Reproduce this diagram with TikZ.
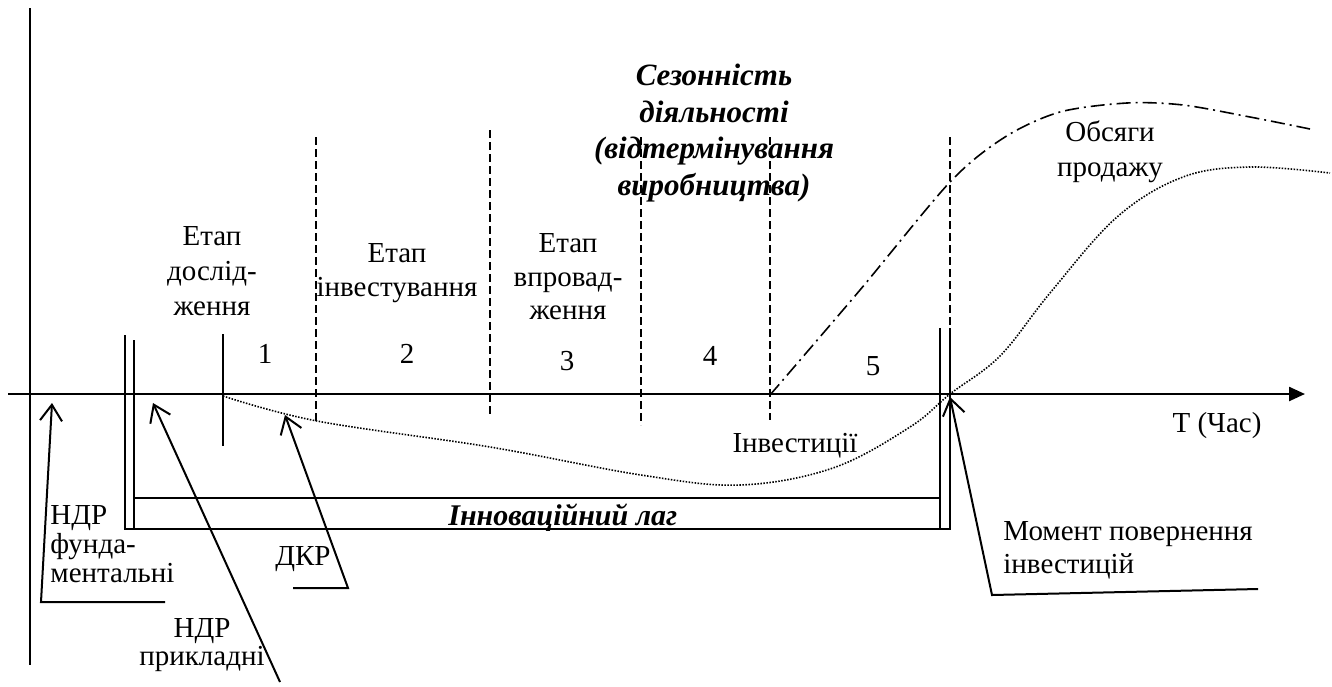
\documentclass[tikz,border=0pt]{standalone}
\usepackage{fontspec}
\setmainfont{Liberation Serif}
\usetikzlibrary{positioning,arrows.meta}

\begin{document}
\begin{tikzpicture}[x=0.5pt, y=-0.5pt, >={Straight Barb[length=8pt,width=11pt]},
    lbl/.style={inner sep=0pt, align=center, font=\fontsize{14.5}{17}\selectfont},
    boldlbl/.style={inner sep=0pt, align=center, font=\fontsize{15.5}{18.3}\selectfont\bfseries\itshape},
    num/.style={inner sep=0pt, anchor=base, font=\fontsize{14.5}{17}\selectfont},
    stageline/.style={line width=0.65pt, dash pattern=on 4pt off 2pt},
    frameline/.style={line width=0.75pt},
    pointer/.style={->, line width=1pt, line join=miter}]
      \useasboundingbox (0,0) rectangle (1332,686);

      % Axes
      \coordinate (axL) at (8,394);
      \coordinate (axR) at (1305,394);
      \draw [line width=1.2pt, -{Triangle[length=8pt,width=7pt]}] (axL) -- (axR);
      \draw [line width=1pt] (30,8) -- (30,665);

      % Stage borders
      \draw [stageline] (316,137) -- (316,423);
      \draw [stageline] (490,130) -- (490,417);
      \draw [stageline] (641,137) -- (641,425);
      \draw [stageline] (770,137) -- (770,420);
      \draw [stageline] (950,137) -- (950,328);
      \draw [frameline] (223,334) -- (223,446);

      % Innovation lag bracket
      \draw [frameline] (125,335) -- (125,529) -- (950,529) -- (950,328);
      \draw [frameline] (134,340) -- (134,529);
      \draw [frameline] (940,328) -- (940,529);
      \draw [frameline] (134,498) -- (940,498);

      % Curves
      \draw [line width=0.8pt, dash pattern=on 0.75pt off 0.75pt] plot [smooth, tension=0.6] coordinates
        {(223,396) (317,421) (490,447) (641,475) (740,485) (833,468) (910,427) (950,394) (1000,356)
         (1050,293) (1117,217) (1183,177) (1250,167) (1330,173)};
      \draw [line width=0.8pt, dash pattern=on 7pt off 2.5pt on 1pt off 2.5pt] plot [smooth, tension=0.5] coordinates
        {(770,395) (860,290) (950,182) (1005,137) (1060,112) (1127,103) (1183,105) (1250,117) (1310,129)};

      % Nodes
      \node [lbl, font=\fontsize{14.5}{17.5}\selectfont] (stage1) at (212,271) {Етап\\дослід-\\ження};
      \node [lbl] (stage2) at (397,273) {Етап\\інвестування};
      \node [lbl, font=\fontsize{14.5}{16.8}\selectfont] (stage3) at (568,277) {Етап\\впровад-\\ження};
      \node [boldlbl] (season) at (714,133) {Сезонність\\діяльності\\(відтермінування\\виробництва)};
      \node [lbl, font=\fontsize{14.5}{17.5}\selectfont] (sales) at (1110,152) {Обсяги\\продажу};

      \node [num] (n1) at (265,363) {1};
      \node [num] (n2) at (407,363) {2};
      \node [num] (n3) at (567,370) {3};
      \node [num] (n4) at (710,365) {4};
      \node [num] (n5) at (873,375) {5};

      \node [num] (invest) at (795,452) {Інвестиції};
      \node [num] (timelbl) at (1217,432) {T (Час)};
      \node [num, anchor=base west, font=\fontsize{15}{17}\selectfont\bfseries\itshape] (lag) at (448,525) {Інноваційний лаг};

      \node [lbl, align=left, anchor=west, font=\fontsize{14.5}{14.5}\selectfont] (fund) at (50,544) {НДР\\фунда-\\ментальні};
      \node [lbl, font=\fontsize{14.5}{14}\selectfont] (appl) at (202,645) {НДР\\прикладні};
      \node [num] (dkr) at (303,565) {ДКР};
      \node [lbl, align=left, anchor=west, font=\fontsize{14.5}{16.5}\selectfont] (ret) at (1003,550) {Момент повернення\\інвестицій};

      % Arrows
      \coordinate (fundTip) at (52,403);
      \coordinate (fundTail) at (41,602);
      \coordinate (fundEnd) at (165,602);
      \coordinate (applTip) at (153,403);
      \coordinate (applTail) at (280,682);
      \coordinate (dkrTip) at (285,415);
      \coordinate (dkrTail) at (348,588);
      \coordinate (dkrEnd) at (293,588);
      \coordinate (retTip) at (950,397);
      \coordinate (retTail) at (992,595);
      \coordinate (retEnd) at (1258,589);

      \draw [pointer] (fundEnd) -- (fundTail) -- (fundTip);
      \draw [pointer] (applTail) -- (applTip);
      \draw [pointer] (dkrEnd) -- (dkrTail) -- (dkrTip);
      \draw [pointer] (retEnd) -- (retTail) -- (retTip);
    \end{tikzpicture}
\end{document}
